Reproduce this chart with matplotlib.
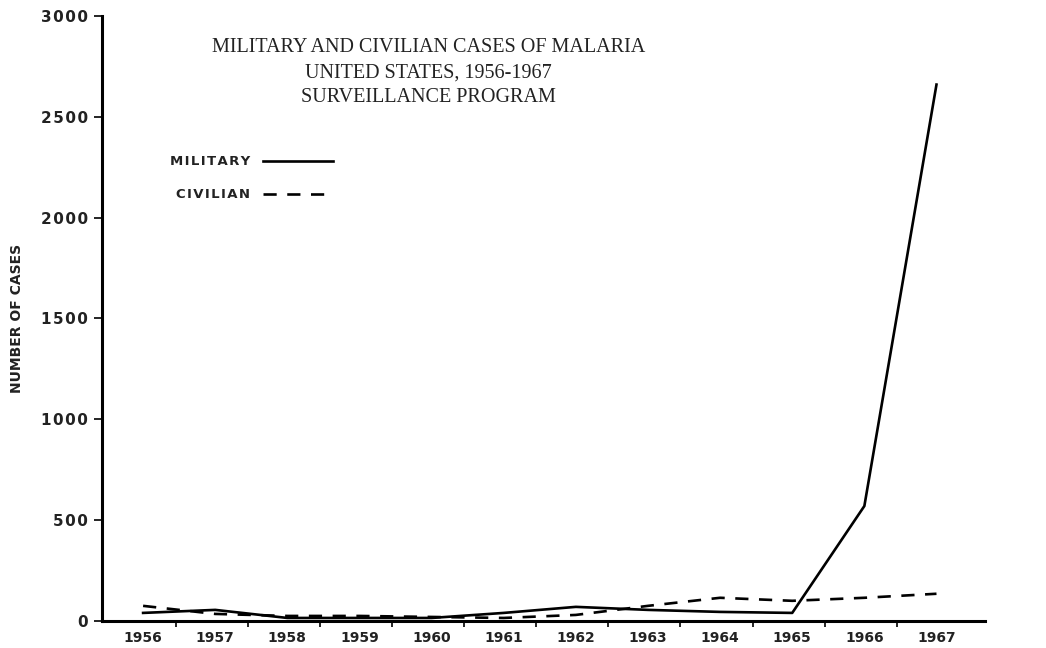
import numpy as np
import matplotlib.pyplot as plt

# Malaria cases by year
years = [1956, 1957, 1958, 1959, 1960, 1961, 1962, 1963, 1964, 1965, 1966, 1967]
military = [40, 55, 15, 15, 15, 40, 70, 55, 45, 40, 570, 2660]
civilian = [75, 35, 25, 25, 20, 15, 30, 75, 115, 100, 115, 135]
y_ticks = [0, 500, 1000, 1500, 2000, 2500, 3000]
y_labels = ['0', '500', '1000', '1500', '2000', '2500', '3000']
title_lines = ['MILITARY AND CIVILIAN CASES OF MALARIA',
               'UNITED STATES, 1956-1967',
               'SURVEILLANCE PROGRAM']


def spaced(s):
    # the old lettering is widely tracked, fake it with hair spaces
    return '\u200a'.join(s)


fig = plt.figure(figsize=(10.46, 6.48), dpi=100)
ax = fig.add_axes([0.0975, 0.0417, 0.844, 0.9336])

ax.plot(years, military, color='black', lw=1.9, solid_joinstyle='round')
ax.plot(years, civilian, color='black', lw=1.9, dashes=(5, 4))

ax.set_xlim(1955.43, 1967.67)
ax.set_ylim(0, 3000)

for side in ['top', 'right']:
    ax.spines[side].set_visible(False)
ax.spines['left'].set_linewidth(2.2)
ax.spines['bottom'].set_linewidth(2.2)

ax.set_yticks(y_ticks)
ax.set_yticklabels([spaced(t) for t in y_labels], fontsize=11, fontweight='bold',
                   color='#222222')
ax.tick_params(axis='y', direction='out', length=6, width=1.2, pad=4)

# year labels sit between the tick marks
ax.set_xticks(np.array(years[:-1]) + 0.45)
ax.set_xticklabels([])
ax.set_xticks(years, minor=True)
ax.set_xticklabels([str(y) for y in years], minor=True, fontsize=10,
                   fontweight='bold', color='#222222')
ax.tick_params(axis='x', which='major', direction='out', length=4, width=1.2)
ax.tick_params(axis='x', which='minor', length=0, pad=7)

ax.set_ylabel('NUMBER OF CASES', fontsize=10, fontweight='bold', color='#222222',
              labelpad=12)

# title in serif
for i, line in enumerate(title_lines):
    fig.text(0.410, 0.926 - i * 0.038, line, ha='center', va='center',
             family='Liberation Serif', fontsize=14.5, color='#222222')

# hand-drawn legend
fig.text(0.239, 0.751, spaced('MILITARY'), ha='right', va='center', fontsize=9.5,
         fontweight='bold', color='#222222')
fig.text(0.239, 0.700, spaced('CIVILIAN'), ha='right', va='center', fontsize=9.5,
         fontweight='bold', color='#222222')
fig.add_artist(plt.Line2D([0.251, 0.318], [0.751, 0.751], color='black', lw=1.9,
                          transform=fig.transFigure))
fig.add_artist(plt.Line2D([0.251, 0.318], [0.700, 0.700], color='black', lw=1.9,
                          dashes=(5, 4), transform=fig.transFigure))

fig.savefig('out.png', dpi=100)
